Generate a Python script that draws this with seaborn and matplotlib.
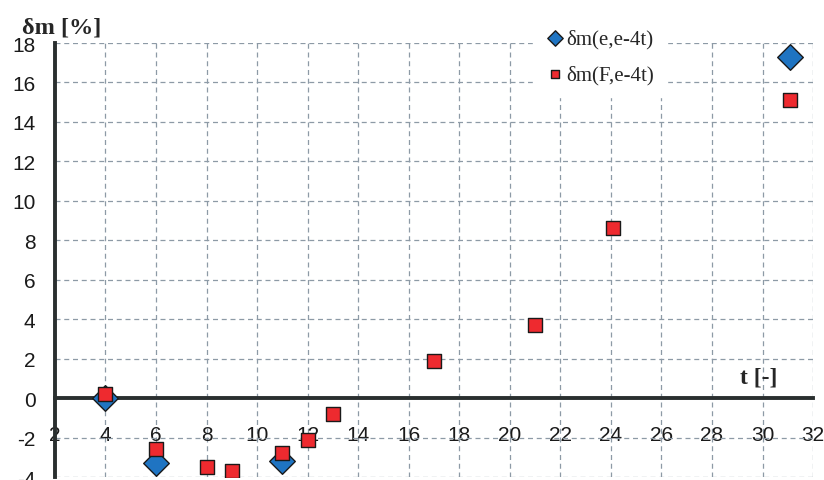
import matplotlib
matplotlib.use("Agg")
import matplotlib.pyplot as plt
import seaborn as sns
import pandas as pd

# δm(e,e-4t) series
t_e = [4, 6, 11, 31.1]
dm_e = [0.0, -3.3, -3.2, 17.3]

# δm(F,e-4t) series
t_f = [4, 6, 8, 9, 11, 12, 13, 17, 21, 24.1, 31.1]
dm_f = [0.2, -2.6, -3.5, -3.7, -2.8, -2.1, -0.8, 1.9, 3.7, 8.6, 15.1]

x_ticks = list(range(2, 33, 2))
y_ticks = list(range(-4, 19, 2))

df_e = pd.DataFrame({"t": t_e, "dm": dm_e})
df_f = pd.DataFrame({"t": t_f, "dm": dm_f})

sns.set_style("white")
plt.rcParams["font.family"] = ["Liberation Sans", "DejaVu Sans"]

fig = plt.figure(figsize=(8.24, 4.81), dpi=100)
ax = fig.add_axes([0.0667, 0.006, 0.92, 0.9025])

ax.set_xlim(2, 32)
ax.set_ylim(-4, 18)
ax.set_xticks(x_ticks)
ax.set_yticks(y_ticks)

grid_color = "#8d9aa6"
ax.grid(True, color=grid_color, linestyle=(0, (4, 3)), linewidth=0.9)
ax.set_axisbelow(True)

sns.scatterplot(data=df_e, x="t", y="dm", ax=ax, marker="D", s=170,
                color="#1f74c2", edgecolor="#1a1a1a", linewidth=1.0,
                label="δm(e,e-4t)", zorder=3)
sns.scatterplot(data=df_f, x="t", y="dm", ax=ax, marker="s", s=115,
                color="#ee2a2f", edgecolor="#1a1a1a", linewidth=1.0,
                label="δm(F,e-4t)", zorder=4)

ax.set_xlabel("")
ax.set_ylabel("")

for side in ["top", "right"]:
    ax.spines[side].set_visible(False)
ax.spines["bottom"].set_position(("data", 0))
ax.spines["left"].set_position(("data", 2))
for side in ["bottom", "left"]:
    ax.spines[side].set_color("#2a2f2f")
    ax.spines[side].set_linewidth(2.8)
    ax.spines[side].set_zorder(2)

ax.tick_params(axis="x", direction="out", length=6, width=2.5, color="#2a2f2f",
               pad=13, labelsize=15, labelcolor="#1a1a1a")
ax.tick_params(axis="y", direction="out", length=6, width=2.5, color="#2a2f2f",
               pad=8, labelsize=15, labelcolor="#1a1a1a")
ax.set_xticklabels([str(v) for v in x_ticks])
ax.set_yticklabels([str(v) for v in y_ticks])

leg = ax.legend(loc="upper left", bbox_to_anchor=(0.617, 1.085), frameon=True,
                framealpha=1.0, edgecolor="white", fancybox=False,
                prop={"family": "Liberation Serif", "size": 15},
                labelspacing=0.8, handletextpad=0.1, borderpad=0.6,
                handlelength=0.9, markerscale=0.6)
leg.set_zorder(5)

fig.text(0.027, 0.942, "δm [%]", fontsize=17.5, fontweight="bold",
         family="Liberation Serif", ha="left", va="center")
ax.text(29.1, 1.05, "t [-]", fontsize=17, fontweight="bold",
        family="Liberation Serif", ha="left", va="center")

fig.savefig("out.png", dpi=100)
